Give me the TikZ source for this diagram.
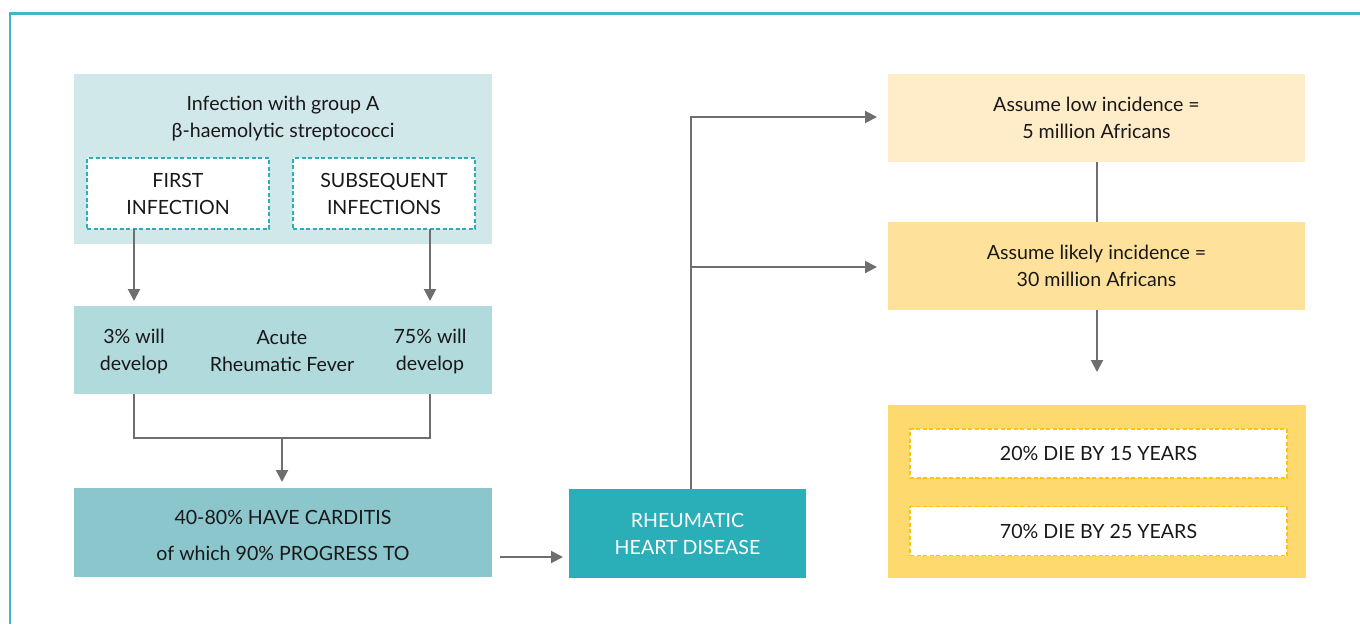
\documentclass[tikz,border=0pt]{standalone}
\usepackage{fontspec}
\setmainfont{Lato}
\usetikzlibrary{arrows.meta,calc}
\definecolor{cBorder}{HTML}{3FB8C2}
\definecolor{cBoxA}{HTML}{D1E8EA}
\definecolor{cBoxB}{HTML}{B0DADC}
\definecolor{cBoxC}{HTML}{8BC6CD}
\definecolor{cRHD}{HTML}{2AAEB8}
\definecolor{cDashT}{HTML}{2AAEB8}
\definecolor{cYlow}{HTML}{FEEDC8}
\definecolor{cYmid}{HTML}{FEE29C}
\definecolor{cYhigh}{HTML}{FED96E}
\definecolor{cYdash}{HTML}{FCC30F}
\definecolor{cGray}{HTML}{6D6E70}
\definecolor{cText}{HTML}{1A1718}
\begin{document}
\begin{tikzpicture}[x=1pt,y=-1pt,
  font=\fontsize{19.6}{27}\selectfont, text=cText,
  blk/.style={inner sep=0pt, outer sep=0pt, minimum width=418pt, minimum height=88pt, align=center},
  txt/.style={inner sep=0pt, outer sep=0pt, align=center},
  dbox/.style={draw=cDashT, dash pattern=on 4pt off 2.5pt, line width=1.7pt, fill=white,
    minimum width=182pt, minimum height=71pt, inner sep=0pt, outer sep=0pt, align=center},
  ydbox/.style={draw=cYdash, dash pattern=on 4pt off 2.5pt, line width=1.8pt, fill=white,
    minimum width=377pt, minimum height=49pt, inner sep=0pt, outer sep=0pt, align=center},
  conn/.style={draw=cGray, line width=2pt},
  arr/.style={conn, -{Triangle[length=12pt,width=12pt]}},
]
\useasboundingbox (0,0) rectangle (1360,624);
% frame
\draw[cBorder, line width=2.4pt] (10,624) -- (10,13.5) -- (1360,13.5);

% left column
\node[blk, fill=cBoxA, minimum height=170pt] (inf) at (283,159) {};
\node[txt] (inftxt) at (283,119) {Infection with group A\\ β-haemolytic streptococci};
\node[dbox] (first) at (178,193.5) {FIRST\\ INFECTION};
\node[dbox] (subs) at (384,193.5) {SUBSEQUENT\\ INFECTIONS};

\node[blk, fill=cBoxB] (arf) at (283,350) {};
\node[txt] (dev1) at (134,351) {3\% will\\ develop};
\node[txt] (arftxt) at (282,351) {Acute\\ Rheumatic Fever};
\node[txt] (dev2) at (430,351) {75\% will\\ develop};

\node[blk, fill=cBoxC, minimum height=89pt] (card) at (283,532.5) {};
\node[txt, font=\fontsize{19.6}{36}\selectfont] (cardtxt) at (283,535) {40-80\% HAVE CARDITIS\\ of which 90\% PROGRESS TO};

\node[blk, fill=cRHD, minimum width=237pt, minimum height=89pt, text=white] (rhd) at (687.5,533.5) {RHEUMATIC\\ HEART DISEASE};

% right column
\node[blk, fill=cYlow, minimum width=417pt] (low) at (1096.5,118) {Assume low incidence =\\ 5 million Africans};
\node[blk, fill=cYmid, minimum width=417pt] (likely) at (1096.5,266) {Assume likely incidence =\\ 30 million Africans};
\node[blk, fill=cYhigh, minimum height=173pt] (deaths) at (1097,491.5) {};
\node[ydbox] (d15) at (1098.5,453.5) {20\% DIE BY 15 YEARS};
\node[ydbox] (d25) at (1098.5,531) {70\% DIE BY 25 YEARS};

% connectors
\draw[arr, shorten >=5pt] (first.south -| dev1) -- (arf.north -| dev1);
\draw[arr, shorten >=5pt] (subs.south -| dev2) -- (arf.north -| dev2);
\coordinate (join) at (282,438);
\draw[conn] (arf.south -| dev1) -- (join -| dev1) -- (join -| dev2) -- (arf.south -| dev2);
\draw[arr, shorten >=6pt] (join) -- (card.north -| join);
\coordinate (c1) at (500,557);
\draw[arr, shorten >=6pt] (c1) -- (c1 -| rhd.west);
\coordinate (riser) at (691,117);
\draw[conn] (rhd.north -| riser) -- (riser);
\draw[arr, shorten >=11pt] ([xshift=-1pt]riser) -- (riser -| low.west);
\draw[arr, shorten >=11pt] (riser |- 267,267) -- (low.west |- 267,267);
\draw[conn] (low.south -| 1097,0) -- (likely.north -| 1097,0);
\coordinate (tipd) at (1097,372);
\draw[arr] (likely.south -| tipd) -- (tipd);
\end{tikzpicture}
\end{document}
